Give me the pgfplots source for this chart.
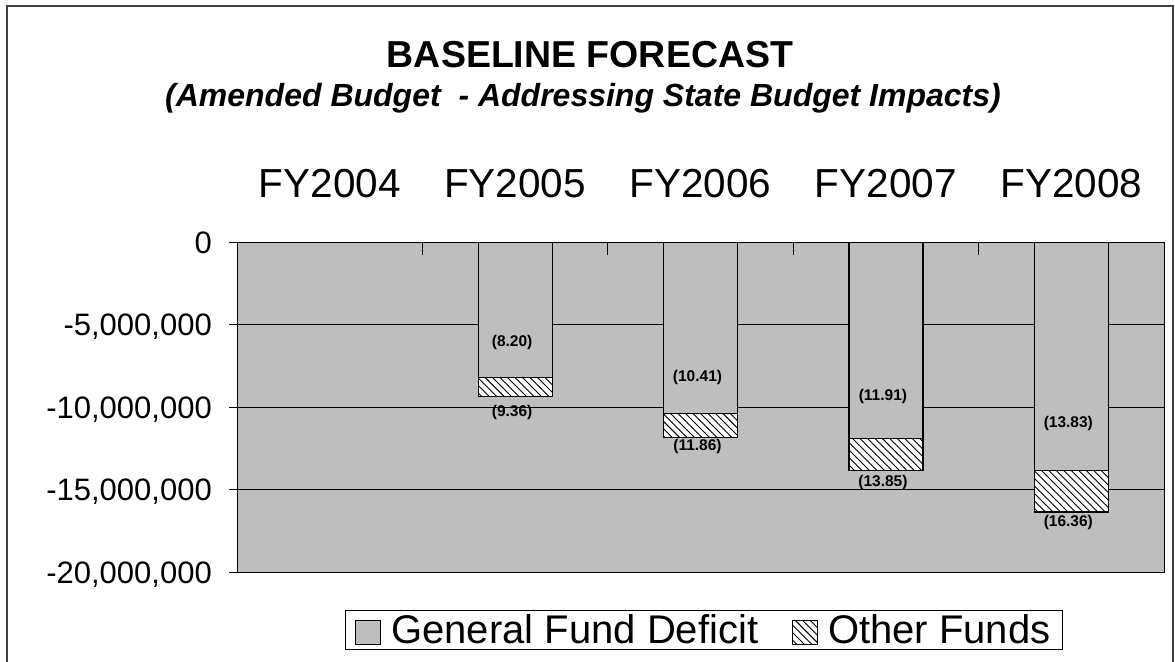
\documentclass[border=0pt]{standalone}
\usepackage{fontspec}
\setmainfont{Liberation Sans}
\usepackage{pgfplots}
\pgfplotsset{compat=1.18}
\usetikzlibrary{patterns}
\definecolor{bggray}{RGB}{190,190,190}
\pgfdeclarepatternformonly{hatchnw}{\pgfqpoint{-1pt}{-1pt}}{\pgfqpoint{8.5pt}{8.5pt}}{\pgfqpoint{7.5pt}{7.5pt}}{%
  \pgfsetlinewidth{0.9pt}%
  \pgfpathmoveto{\pgfqpoint{-0.1pt}{7.6pt}}%
  \pgfpathlineto{\pgfqpoint{7.6pt}{-0.1pt}}%
  \pgfusepath{stroke}%
}
\pgfplotsset{boxlegend/.style={legend image code/.code={\draw[##1, line width=0.9bp] (0bp,-15bp) rectangle (25bp,9bp);}}}

\begin{document}
\begin{tikzpicture}
\useasboundingbox (0,0) rectangle (1175bp,-662bp);
\fill[white] (0,0) rectangle (1175bp,-662bp);
\draw[black!75, line width=1.2bp] (7bp,-6bp) rectangle (1173bp,-720bp);
\begin{axis}[
  at={(237bp,-572bp)}, anchor=south west,
  scale only axis, width=927bp, height=330bp,
  xmin=0.5, xmax=5.5, ymin=-20000000, ymax=0,
  axis background/.style={fill=bggray},
  axis line style={black, line width=1bp},
  ybar stacked, bar width=74bp,
  xtick={1,2,3,4,5},
  xticklabels={FY2004,FY2005,FY2006,FY2007,FY2008},
  minor xtick={1.5,2.5,3.5,4.5},
  xtick pos=right, xticklabel pos=right,
  ytick pos=left,
  tick align=outside,
  major tick length=8bp, minor tick length=13bp,
  every major x tick/.style={draw=none},
  every minor x tick/.style={black, line width=1bp, yshift=-13bp},
  every major y tick/.style={black, line width=1bp},
  ytick={-20000000,-15000000,-10000000,-5000000,0},
  yticklabels={{-20,000,000},{-15,000,000},{-10,000,000},{-5,000,000},{0}},
  scaled y ticks=false,
  ymajorgrids, major grid style={black, line width=0.8bp},
  xticklabel style={font=\fontsize{40.5bp}{44bp}\selectfont, anchor=base, inner sep=0pt, yshift=37bp},
  yticklabel style={font=\fontsize{31bp}{36bp}\selectfont, anchor=base east, inner sep=0pt, xshift=-17bp, yshift=-11bp},
  legend style={at={(0.1165,-0.1152)}, anchor=north west, draw=black, line width=1bp, fill=white,
    font=\fontsize{40bp}{44bp}\selectfont, inner xsep=10bp, inner ysep=2bp,
    nodes={inner sep=2bp},
    /tikz/every odd column/.style={column sep=8bp},
    /tikz/every even column/.style={column sep=32bp}},
  legend columns=-1,
]
\addplot[fill=bggray, draw=black, line width=1.2bp, boxlegend]
  coordinates {(1,0) (2,-8200000) (3,-10410000) (4,-11910000) (5,-13830000)};
\addlegendentry{General Fund Deficit}
\addplot[fill=white, draw=black, line width=1.2bp,
  postaction={pattern=hatchnw}, boxlegend]
  coordinates {(1,0) (2,-1160000) (3,-1450000) (4,-1940000) (5,-2530000)};
\addlegendentry{Other Funds}
\coordinate (a1) at (axis cs:2,-6100000);
\coordinate (a2) at (axis cs:2,-10360000);
\coordinate (a3) at (axis cs:3,-8240000);
\coordinate (a4) at (axis cs:3,-12420000);
\coordinate (a5) at (axis cs:4,-9390000);
\coordinate (a6) at (axis cs:4,-14600000);
\coordinate (a7) at (axis cs:5,-10970000);
\coordinate (a8) at (axis cs:5,-17000000);
\end{axis}
\begin{scope}[every node/.style={font=\bfseries\fontsize{15.5bp}{17bp}\selectfont, xshift=-3bp}]
\node at (a1) {(8.20)};
\node at (a2) {(9.36)};
\node at (a3) {(10.41)};
\node at (a4) {(11.86)};
\node at (a5) {(11.91)};
\node at (a6) {(13.85)};
\node at (a7) {(13.83)};
\node at (a8) {(16.36)};
\end{scope}
\node[anchor=base, font=\bfseries\fontsize{37.5bp}{40bp}\selectfont] at (590bp,-67bp) {BASELINE FORECAST};
\node[anchor=base, font=\bfseries\itshape\fontsize{32bp}{36bp}\selectfont] at (583bp,-106bp) {(Amended Budget\ \ - Addressing State Budget Impacts)};
\end{tikzpicture}
\end{document}
